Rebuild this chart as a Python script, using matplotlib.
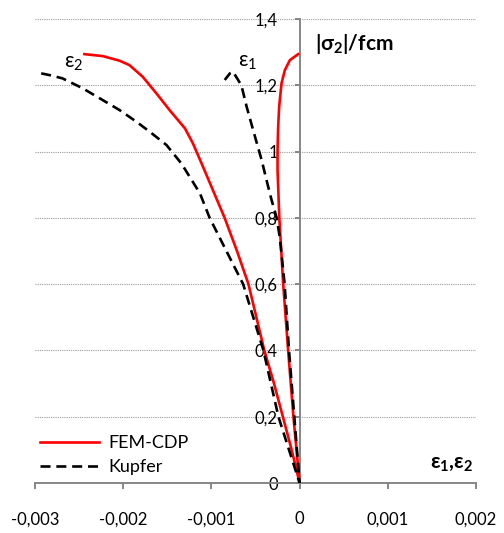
import numpy as np
import matplotlib
matplotlib.use("Agg")
import matplotlib.pyplot as plt

plt.rcParams.update({
    "font.family": ["Lato", "DejaVu Sans"],
    "font.size": 12,
    "mathtext.fontset": "custom",
    "mathtext.rm": "Lato",
    "mathtext.it": "Lato",
    "mathtext.bf": "Lato:bold",
})

# FEM-CDP curve: eps2 branch (from origin outward) and eps1 branch
fem_eps2 = [0.0, -0.00009, -0.00019, -0.00029, -0.00040, -0.00049, -0.00058,
            -0.00071, -0.00085, -0.001095, -0.00121, -0.00130, -0.001474,
            -0.001625, -0.00178, -0.00193, -0.00204, -0.00223, -0.00244]
fem_sig2 = [0.0, 0.1, 0.2, 0.3, 0.4, 0.5, 0.6,
            0.7, 0.8, 0.954, 1.025, 1.07, 1.125,
            1.176, 1.226, 1.261, 1.274, 1.288, 1.294]
fem_eps1 = [0.0, -0.00007, -0.00013, -0.000186, -0.00023, -0.00025, -0.00025,
            -0.000243, -0.000232, -0.000205, -0.000167, -0.00011, -0.000016]
fem_sig1 = [0.0, 0.2, 0.4, 0.6, 0.8, 0.944, 1.005,
            1.075, 1.135, 1.206, 1.246, 1.276, 1.294]

# Kupfer experiment
kup_eps2 = [0.0, -0.00024, -0.00041, -0.00064, -0.00102, -0.00113, -0.00134,
            -0.00151, -0.00170, -0.00185, -0.00204, -0.00223, -0.00246,
            -0.00269, -0.00284, -0.00293]
kup_sig2 = [0.0, 0.2, 0.4, 0.6, 0.8, 0.874, 0.964,
            1.02, 1.06, 1.09, 1.125, 1.155, 1.191,
            1.221, 1.231, 1.236]
kup_eps1 = [0.0, -0.00006, -0.00012, -0.00017, -0.000224, -0.00026, -0.000318,
            -0.000375, -0.00043, -0.000527, -0.00060, -0.00066, -0.000755,
            -0.00079, -0.000849]
kup_sig1 = [0.0, 0.2, 0.4, 0.6, 0.74, 0.8, 0.854,
            0.914, 0.974, 1.065, 1.135, 1.2, 1.241,
            1.236, 1.216]

x_ticks = [-0.003, -0.002, -0.001, 0.0, 0.001, 0.002]
x_labels = ["-0,003", "-0,002", "-0,001", "0", "0,001", "0,002"]
y_ticks = [0.0, 0.2, 0.4, 0.6, 0.8, 1.0, 1.2, 1.4]
y_labels = ["0", "0,2", "0,4", "0,6", "0,8", "1", "1,2", "1,4"]


def join_branches(e2, s2, e1, s1):
    # eps2 tip -> origin -> eps1 tip as one polyline
    x = np.concatenate([np.array(e2)[::-1], np.array(e1)[1:]])
    y = np.concatenate([np.array(s2)[::-1], np.array(s1)[1:]])
    return x, y


fig = plt.figure(figsize=(5.04, 5.33), dpi=100)
ax = fig.add_axes([35 / 504, 1 - 483 / 533, 441 / 504, 464 / 533])

axis_grey = "#868686"

for yt in y_ticks[1:]:
    ax.axhline(yt, color="#9a9a9a", lw=0.8, ls=(0, (1, 1)), zorder=0)

xf, yf = join_branches(fem_eps2, fem_sig2, fem_eps1, fem_sig1)
xk, yk = join_branches(kup_eps2, kup_sig2, kup_eps1, kup_sig1)

ax.plot(xf, yf, color="#ff0000", lw=1.9, label="FEM-CDP", zorder=3,
        solid_joinstyle="round")
ax.plot(xk, yk, color="black", lw=1.9, ls=(0, (3.8, 2.2)), label="Kupfer",
        zorder=4)

ax.set_xlim(-0.003, 0.002)
ax.set_ylim(0, 1.4)

ax.spines["top"].set_visible(False)
ax.spines["right"].set_visible(False)
ax.spines["left"].set_position(("data", 0))
for s in ("left", "bottom"):
    ax.spines[s].set_color(axis_grey)
    ax.spines[s].set_linewidth(1.4)
    ax.spines[s].set_zorder(2)

ax.set_xticks(x_ticks)
ax.set_xticklabels(x_labels)
ax.set_yticks(y_ticks)
ax.set_yticklabels(y_labels)
ax.tick_params(axis="x", direction="out", length=4.5, width=1.4,
               color=axis_grey, pad=16, labelsize=12)
ax.tick_params(axis="y", direction="out", length=3.6, width=1.4,
               color=axis_grey, pad=12, labelsize=12)

ax.text(0.000175, 1.325, r"$\mathbf{|σ_2|/fcm}$", fontsize=15,
        ha="left", va="center")
ax.text(0.00197, 0.06, r"$\mathbf{ε_1{,}ε_2}$", fontsize=15,
        ha="right", va="center")
ax.text(-0.00267, 1.267, r"$ε_2$", fontsize=15, ha="left", va="center")
ax.text(-0.00070, 1.27, r"$ε_1$", fontsize=15, ha="left", va="center")

ax.legend(loc="center left", bbox_to_anchor=(0.011, 0.06), frameon=False,
          fontsize=13, handlelength=3.3, handletextpad=0.5,
          labelspacing=0.45, borderpad=0, borderaxespad=0)

fig.savefig("out.png", dpi=100)
